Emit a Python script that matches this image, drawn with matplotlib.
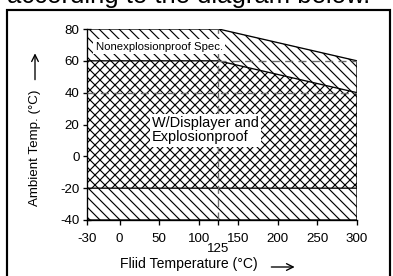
import numpy as np
import matplotlib
matplotlib.use('Agg')
import matplotlib.pyplot as plt
from matplotlib.patches import Rectangle

plt.rcParams['font.family'] = ['Liberation Sans', 'DejaVu Sans']
plt.rcParams['hatch.linewidth'] = 0.7
plt.rcParams['axes.unicode_minus'] = False

# ------- diagram data (fluid temp vs ambient temp, deg C)
x_ticks = [-30, 0, 50, 100, 150, 200, 250, 300]
y_ticks = [-40, -20, 0, 20, 40, 60, 80]
knee_x = 125

# nonexplosionproof envelope
outer_x = [-30, 300, 300, 125, -30]
outer_y = [-40, -40, 60, 80, 80]

# w/ displayer and explosionproof envelope
inner_x = [-30, 300, 300, 125, -30]
inner_y = [-20, -20, 40, 60, 60]

# reference (dashed) lines
dash_h = [(125, 300, 60), (-30, 300, 40)]
dash_v = [(125, -40, 80)]

W, H, DPI = 393, 276, 120


# axis is squeezed below 0 in the original drawing
def fwd(x):
    x = np.asarray(x, dtype=float)
    return np.where(x < 0, x * 1.37, x)


def inv(x):
    x = np.asarray(x, dtype=float)
    return np.where(x < 0, x / 1.37, x)


fig = plt.figure(figsize=(W / DPI, H / DPI), dpi=DPI)
ax = fig.add_axes([87 / W, 1 - 220 / H, 270 / W, 191 / H])
ax.set_xscale('function', functions=(fwd, inv))

ax.fill(outer_x, outer_y, facecolor='white', edgecolor='black',
        hatch='\\\\\\\\', lw=0.8, zorder=1)
ax.fill(inner_x, inner_y, facecolor='white', edgecolor='black',
        hatch='xxxx', lw=0.8, zorder=2)

for x0, x1, y in dash_h:
    ax.plot([x0, x1], [y, y], color='#6a6a6a', lw=0.8,
            dashes=(6, 4), zorder=3)
for x, y0, y1 in dash_v:
    ax.plot([x, x], [y0, y1], color='#6a6a6a', lw=0.8,
            dashes=(6, 4), zorder=3)

ax.text(50, 68.7, 'Nonexplosionproof Spec.', fontsize=6.8,
        ha='center', va='center', zorder=4,
        bbox=dict(facecolor='white', edgecolor='none', pad=1.5))
ax.text(41, 16.5, 'W/Displayer and\nExplosionproof', fontsize=8.7,
        ha='left', va='center', linespacing=1.0, zorder=4,
        bbox=dict(facecolor='white', edgecolor='none', pad=1.5))

ax.set_xlim(-30, 300)
ax.set_ylim(-40, 80)
ax.set_xticks(x_ticks)
ax.set_xticks([knee_x], [str(knee_x)], minor=True)
ax.set_yticks(y_ticks)

for s in ['top', 'right']:
    ax.spines[s].set_visible(False)
for s in ['left', 'bottom']:
    ax.spines[s].set_linewidth(0.8)

ax.tick_params(axis='x', which='both', direction='out', length=3,
               width=0.8, pad=4.5, labelsize=8)
ax.tick_params(axis='x', which='minor', pad=10.5)
ax.tick_params(axis='y', direction='inout', length=5, width=0.8,
               pad=2, labelsize=8)

# axis titles with arrows
fig.text(35 / W, 1 - 148 / H, 'Ambient Temp. (\u00b0C)', rotation=90,
         fontsize=8, ha='center', va='center')
ax.annotate('', xy=(35 / W, 1 - 50 / H), xytext=(35 / W, 1 - 83 / H),
            xycoords='figure fraction', textcoords='figure fraction',
            arrowprops=dict(arrowstyle='->', lw=0.8))
fig.text(189 / W, 1 - 264 / H, 'Fliid Temperature (\u00b0C)',
         fontsize=8.4, ha='center', va='center')
ax.annotate('', xy=(298 / W, 1 - 267 / H), xytext=(268 / W, 1 - 267 / H),
            xycoords='figure fraction', textcoords='figure fraction',
            arrowprops=dict(arrowstyle='->', lw=0.8))

# page bits around the figure
fig.text(7 / W, 1 - 3 / H, 'according to the diagram below.',
         fontsize=15.4, ha='left', va='baseline')
fig.patches.append(Rectangle((7 / W, -0.1), 383 / W, 1.1 - 10 / H,
                             transform=fig.transFigure, fill=False,
                             lw=1.3, ec='black'))

fig.savefig('out.png', dpi=DPI)
